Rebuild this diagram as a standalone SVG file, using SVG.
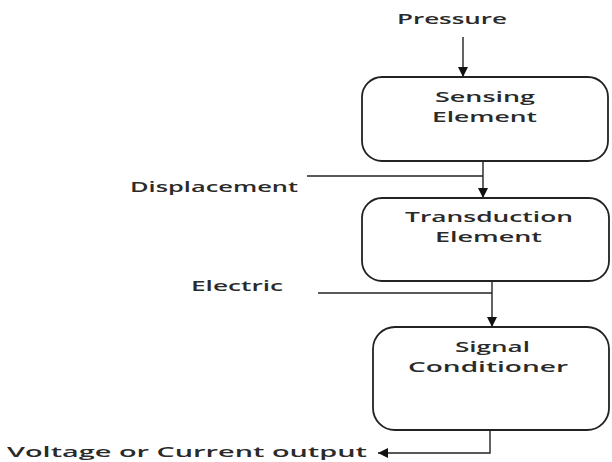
<svg xmlns="http://www.w3.org/2000/svg" width="612" height="462" viewBox="0 0 612 462">
<defs>
<marker id="ah" viewBox="0 0 10 10" refX="10" refY="5" markerWidth="10" markerHeight="13" markerUnits="userSpaceOnUse" orient="auto">
<path d="M0,0 L10,5 L0,10 Z" fill="#111"/>
</marker>
<style>
.box{fill:#fff;stroke:#222;stroke-width:1.8}
.ln{fill:none;stroke:#222;stroke-width:1.4}
.t{font-family:"Open Sans","Liberation Sans",sans-serif;font-weight:600;font-size:15px;fill:#2a2a2a}
</style>
</defs>
<rect width="612" height="462" fill="#fff"/>
<g id="connectors">
<line class="ln" x1="463" y1="37" x2="463" y2="77" marker-end="url(#ah)"/>
<line class="ln" x1="483" y1="161" x2="483" y2="198" marker-end="url(#ah)"/>
<line class="ln" x1="307" y1="176" x2="483" y2="176"/>
<line class="ln" x1="492" y1="281" x2="492" y2="327" marker-end="url(#ah)"/>
<line class="ln" x1="318" y1="293" x2="492" y2="293"/>
<polyline class="ln" points="490,430 490,453 378,453" marker-end="url(#ah)"/>
</g>
<g id="label-pressure"><text class="t" x="397" y="24" textLength="110" lengthAdjust="spacingAndGlyphs">Pressure</text></g>
<g id="sensing-element">
<rect class="box" x="362" y="77" width="246" height="84" rx="20"/>
<text class="t" x="435" y="102" textLength="100" lengthAdjust="spacingAndGlyphs">Sensing</text>
<text class="t" x="432" y="122" textLength="105" lengthAdjust="spacingAndGlyphs">Element</text>
</g>
<g id="label-displacement"><text class="t" x="130" y="192" textLength="168" lengthAdjust="spacingAndGlyphs">Displacement</text></g>
<g id="transduction-element">
<rect class="box" x="362" y="198" width="247" height="83" rx="20"/>
<text class="t" x="405" y="222" textLength="168" lengthAdjust="spacingAndGlyphs">Transduction</text>
<text class="t" x="435" y="242" textLength="107" lengthAdjust="spacingAndGlyphs">Element</text>
</g>
<g id="label-electric"><text class="t" x="191" y="291" textLength="92" lengthAdjust="spacingAndGlyphs">Electric</text></g>
<g id="signal-conditioner">
<rect class="box" x="373" y="327" width="236" height="103" rx="22"/>
<text class="t" x="455" y="352" textLength="75" lengthAdjust="spacingAndGlyphs">Signal</text>
<text class="t" x="408" y="372" textLength="160" lengthAdjust="spacingAndGlyphs">Conditioner</text>
</g>
<g id="label-output"><text class="t" x="7" y="457" textLength="360" lengthAdjust="spacingAndGlyphs">Voltage or Current output</text></g>
</svg>
